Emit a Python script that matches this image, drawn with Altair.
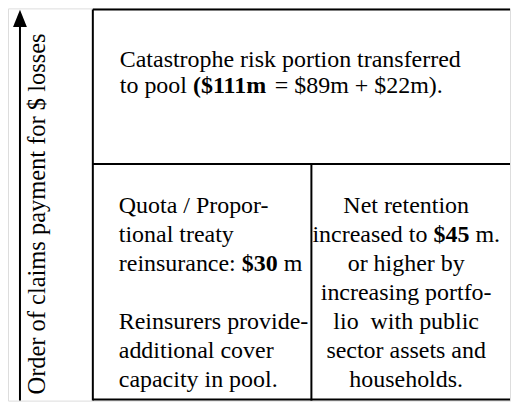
import altair as alt
import pandas as pd

# ---- diagram content -------------------------------------------------
axis_label = "Order of claims payment for $ losses"

top_lines = [
    [("Catastrophe risk portion transferred", False)],
    [("to pool ", False), ("($111m", True), (" = $89m + $22m).", False)],
]

left_lines = [
    [("Quota / Propor-", False)],
    [("tional treaty", False)],
    [("reinsurance: ", False), ("$30", True), (" m", False)],
    [],
    [("Reinsurers provide-", False)],
    [("additional cover", False)],
    [("capacity in pool.", False)],
]

right_lines = [
    [("Net retention", False)],
    [("increased to ", False), ("$45", True), (" m.", False)],
    [("or higher by", False)],
    [("increasing portfo-", False)],
    [("lio  with public", False)],
    [("sector assets and", False)],
    [("households.", False)],
]

# ---- layout (screen pixel coordinates) --------------------------------
FS = 24
LEFT, RIGHT, TOP, BOTTOM = 93, 511, 9, 400
MID_Y, MID_X = 164, 312

rules = pd.DataFrame([
    dict(x=LEFT, x2=RIGHT, y=TOP, y2=TOP),
    dict(x=LEFT, x2=RIGHT, y=BOTTOM, y2=BOTTOM),
    dict(x=LEFT, x2=LEFT, y=TOP, y2=BOTTOM + 1),
    dict(x=LEFT, x2=RIGHT, y=MID_Y, y2=MID_Y),
    dict(x=MID_X, x2=MID_X, y=MID_Y, y2=BOTTOM + 1),
    dict(x=20, x2=20, y=24, y2=401),
])

# Times New Roman (Liberation Serif) advance widths /1000 em
REG = {' ': 250, '(': 333, ')': 333, '+': 564, '.': 250, '/': 278, '-': 333, ':': 278,
       '=': 564, '$': 500, 'C': 667, 'N': 722, 'Q': 722, 'P': 556, 'R': 667,
       'a': 444, 'b': 500, 'c': 444, 'd': 500, 'e': 444, 'f': 333, 'g': 500, 'h': 500,
       'i': 278, 'k': 500, 'l': 278, 'm': 778, 'n': 500, 'o': 500, 'p': 500, 'r': 333,
       's': 389, 't': 278, 'u': 500, 'v': 500, 'w': 722, 'y': 500}
BOLD = {'(': 333, '$': 500, 'm': 833, ' ': 250}


def width(s, bold):
    tot = 0
    for ch in s:
        if ch.isdigit():
            tot += 500
        elif bold:
            tot += BOLD.get(ch, 556)
        else:
            tot += REG.get(ch, 500)
    return tot / 1000 * FS


rows = []


def place(lines, y0, dy, x0=None, cx=None):
    for i, segs in enumerate(lines):
        if not segs:
            continue
        total = sum(width(t, b) for t, b in segs)
        x = x0 if x0 is not None else cx - total / 2
        for t, b in segs:
            core = t.lstrip(" ")
            lead = t[: len(t) - len(core)]
            xs0 = x + width(lead, b)
            shown = core.rstrip(" ").replace("  ", " \u00a0")
            rows.append(dict(x=xs0, y=y0 + i * dy, t=shown, w="bold" if b else "normal"))
            x += width(t, b)


place(top_lines, 67, 26, x0=120)
place(left_lines, 213, 29, x0=119)
place(right_lines, 213, 29, cx=407)
texts = pd.DataFrame(rows)

xs = alt.Scale(domain=[8, 511])
ys = alt.Scale(domain=[401, 8])

rule_layer = alt.Chart(rules).mark_rule(color="#000", strokeWidth=2).encode(
    x=alt.X("x:Q", scale=xs, axis=None),
    x2="x2:Q",
    y=alt.Y("y:Q", scale=ys, axis=None),
    y2="y2:Q",
)

head = pd.DataFrame([dict(x=20, y=18)])
head_layer = alt.Chart(head).mark_point(
    shape="M0,-1L-0.8,1L0.8,1Z", filled=True, color="#000", size=300, opacity=1
).encode(x=alt.X("x:Q", scale=xs), y=alt.Y("y:Q", scale=ys))

label = pd.DataFrame([dict(x=38, y=214, t=axis_label)])
label_layer = alt.Chart(label).mark_text(
    angle=270, align="center", baseline="middle", font="Liberation Serif",
    fontSize=24.5, color="#000"
).encode(x=alt.X("x:Q", scale=xs), y=alt.Y("y:Q", scale=ys), text="t:N")

normal_layer = alt.Chart(texts[texts.w == "normal"]).mark_text(
    align="left", baseline="alphabetic", font="Liberation Serif", fontSize=FS, color="#000"
).encode(x=alt.X("x:Q", scale=xs), y=alt.Y("y:Q", scale=ys), text="t:N")

bold_layer = alt.Chart(texts[texts.w == "bold"]).mark_text(
    align="left", baseline="alphabetic", font="Liberation Serif", fontSize=FS,
    fontWeight="bold", color="#000"
).encode(x=alt.X("x:Q", scale=xs), y=alt.Y("y:Q", scale=ys), text="t:N")

chart = alt.layer(rule_layer, head_layer, label_layer, normal_layer, bold_layer).properties(
    width=503, height=393, padding=0
).configure_view(stroke=None).configure(background="white")

chart.save("out.html", embed_options={"renderer": "svg", "actions": False})
